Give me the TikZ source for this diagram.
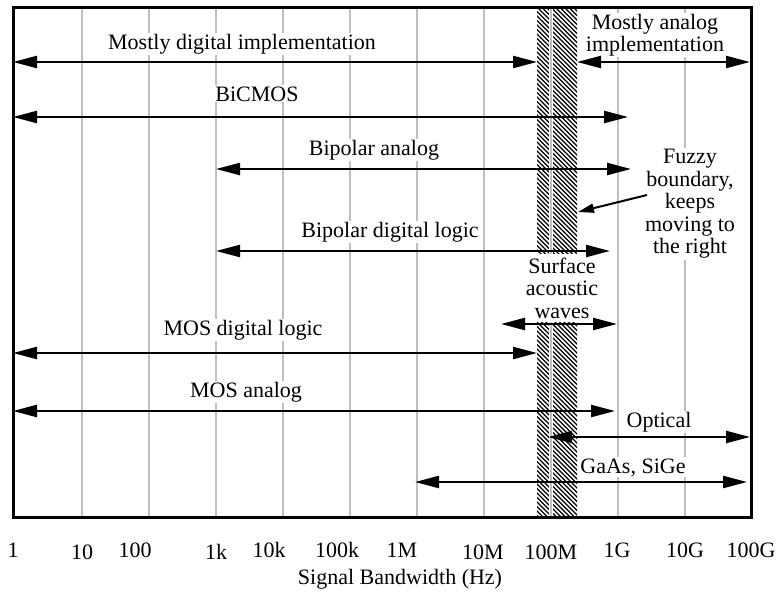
\documentclass[tikz,border=0pt]{standalone}
\usepackage{fontspec}
\setmainfont{Liberation Serif}
\usetikzlibrary{arrows.meta}
\begin{document}
\begin{tikzpicture}[x=1pt,y=-1pt,
  grid/.style={draw=black!25, line width=1.3pt},
  hatchline/.style={line width=1.15pt, black},
  span/.style={line width=2.3pt, {Triangle[length=24pt,width=12pt]}-{Triangle[length=24pt,width=12pt]}},
  pointer/.style={line width=2pt, -{Triangle[length=16pt,width=9pt]}},
  lbl/.style={fill=white, inner sep=1pt, font=\fontsize{22}{22.5}\selectfont},
  tick/.style={anchor=base, inner sep=0pt, font=\fontsize{22}{22.5}\selectfont}
]
\useasboundingbox[fill=white] (0,0) rectangle (778,592);
% grid lines
\foreach \k in {1,...,10} \draw[grid] ({15+67*\k},7) -- ({15+67*\k},517);
% hatched fuzzy boundary
\begin{scope}
  \clip (537,7) rectangle (577,517);
  \foreach \i in {0,...,130} \draw[hatchline] ({537-540+4.5*\i},7) -- ++(560,560);
  \draw[white, line width=4pt] (551,7) -- (551,517);
  \draw[grid] (551,7) -- (551,517);
\end{scope}
% labels
\node[lbl, anchor=base] (mdi) at (242,49) {Mostly digital implementation};
\node[lbl, align=center] (mai) at (655,35) {Mostly analog\\implementation};
\node[lbl, anchor=base] (bic) at (257,101) {BiCMOS};
\node[lbl, anchor=base] (bpa) at (374,155) {Bipolar analog};
\node[lbl, anchor=base] (bpd) at (390,237) {Bipolar digital logic};
\node[lbl, align=center, inner ysep=4pt] (saw) at (562,288) {Surface\\acoustic\\waves};
\node[lbl, align=center] (fuz) at (690,204) {Fuzzy\\boundary,\\keeps\\moving to\\the right};
\node[lbl, anchor=base] (mdl) at (243,335) {MOS digital logic};
\node[lbl, anchor=base] (man) at (246,397) {MOS analog};
\node[lbl, anchor=base] (opt) at (659,427) {Optical};
\node[lbl, anchor=base] (gas) at (633,473) {GaAs, SiGe};
% arrow end points
\coordinate (mdL) at (13,62);   \coordinate (mdR) at (537,62);
\coordinate (maL) at (577,62);  \coordinate (maR) at (750,62);
\coordinate (bcL) at (13,117);  \coordinate (bcR) at (628,117);
\coordinate (baL) at (216,169); \coordinate (baR) at (631,169);
\coordinate (bdL) at (216,251); \coordinate (bdR) at (610,251);
\coordinate (swL) at (501,324); \coordinate (swR) at (617,324);
\coordinate (mlL) at (13,353);  \coordinate (mlR) at (537,353);
\coordinate (anL) at (13,411);  \coordinate (anR) at (615,411);
\coordinate (opL) at (548,437); \coordinate (opR) at (750,437);
\coordinate (gaL) at (415,482); \coordinate (gaR) at (747,482);
\coordinate (fzS) at (647,195); \coordinate (fzE) at (578,212);
% arrows
\draw[span] (mdL) -- (mdR);
\draw[span] (maL) -- (maR);
\draw[span] (bcL) -- (bcR);
\draw[span] (baL) -- (baR);
\draw[span] (bdL) -- (bdR);
\draw[span] (swL) -- (swR);
\draw[span] (mlL) -- (mlR);
\draw[span] (anL) -- (anR);
\draw[span] (opL) -- (opR);
\draw[span] (gaL) -- (gaR);
\draw[pointer] (fzS) -- (fzE);
% frame
\draw[line width=3pt] (13,7) rectangle (751,517);
% axis labels
\node[tick] (t0) at (13,557) {1};
\node[tick] (t1) at (82,559) {10};
\node[tick] (t2) at (135,557) {100};
\node[tick] (t3) at (216,559) {1k};
\node[tick] (t4) at (269,557) {10k};
\node[tick] (t5) at (337,557) {100k};
\node[tick] (t6) at (402,557) {1M};
\node[tick] (t7) at (483,559) {10M};
\node[tick] (t8) at (551,559) {100M};
\node[tick] (t9) at (617,557) {1G};
\node[tick] (t10) at (685,557) {10G};
\node[tick] (t11) at (751,557) {100G};
\node[tick] (xl) at (400,584) {Signal Bandwidth (Hz)};
\end{tikzpicture}
\end{document}
